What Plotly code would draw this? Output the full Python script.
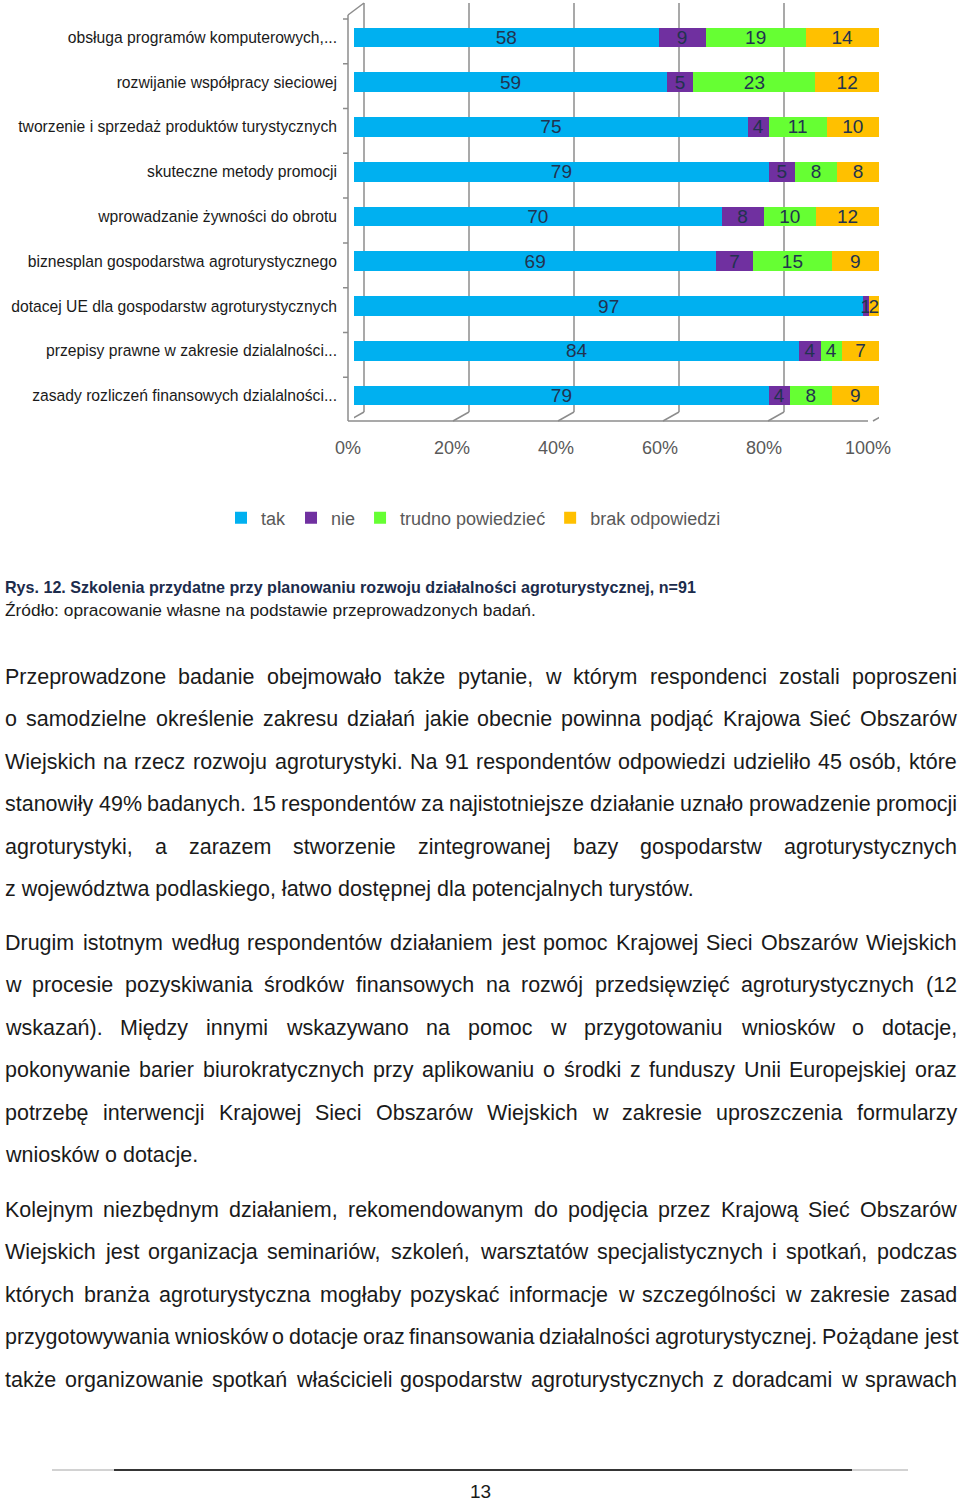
import plotly.graph_objects as go

# ---------------- data ----------------
categories = [
    "obsługa programów komputerowych,...",
    "rozwijanie współpracy sieciowej",
    "tworzenie i sprzedaż produktów turystycznych",
    "skuteczne metody promocji",
    "wprowadzanie żywności do obrotu",
    "biznesplan gospodarstwa agroturystycznego",
    "dotacej UE dla gospodarstw agroturystycznych",
    "przepisy prawne w zakresie dzialalności...",
    "zasady rozliczeń finansowych dzialalności...",
]
tak = [58, 59, 75, 79, 70, 69, 97, 84, 79]
nie = [9, 5, 4, 5, 8, 7, 1, 4, 4]
trudno = [19, 23, 11, 8, 10, 15, 0, 4, 8]
brak = [14, 12, 10, 8, 12, 9, 2, 7, 9]
series_names = ["tak", "nie", "trudno powiedzieć", "brak odpowiedzi"]
series_colors = ["#00b0f0", "#7030a0", "#66ff33", "#ffc000"]
x_tick_vals = [0, 20, 40, 60, 80, 100]
x_tick_labels = ["0%", "20%", "40%", "60%", "80%", "100%"]

caption = "Rys. 12. Szkolenia przydatne przy planowaniu rozwoju działalności agroturystycznej, n=91"
source = "Źródło: opracowanie własne na podstawie przeprowadzonych badań."

paragraphs = [
    [
        "Przeprowadzone badanie obejmowało także pytanie, w którym respondenci zostali poproszeni",
        "o samodzielne określenie zakresu działań jakie obecnie powinna podjąć Krajowa Sieć Obszarów",
        "Wiejskich na rzecz rozwoju agroturystyki. Na 91 respondentów odpowiedzi udzieliło 45 osób, które",
        "stanowiły 49% badanych. 15 respondentów za najistotniejsze działanie uznało prowadzenie promocji",
        "agroturystyki, a zarazem stworzenie zintegrowanej bazy gospodarstw agroturystycznych",
        "z województwa podlaskiego, łatwo dostępnej dla potencjalnych turystów.",
    ],
    [
        "Drugim istotnym według respondentów działaniem jest pomoc Krajowej Sieci Obszarów Wiejskich",
        "w procesie pozyskiwania środków finansowych na rozwój przedsięwzięć agroturystycznych (12",
        "wskazań). Między innymi wskazywano na pomoc w przygotowaniu wniosków o dotacje,",
        "pokonywanie barier biurokratycznych przy aplikowaniu o środki z funduszy Unii Europejskiej oraz",
        "potrzebę interwencji Krajowej Sieci Obszarów Wiejskich w zakresie uproszczenia formularzy",
        "wniosków o dotacje.",
    ],
    [
        "Kolejnym niezbędnym działaniem, rekomendowanym do podjęcia przez Krajową Sieć Obszarów",
        "Wiejskich jest organizacja seminariów, szkoleń, warsztatów specjalistycznych i spotkań, podczas",
        "których branża agroturystyczna mogłaby pozyskać informacje w szczególności w zakresie zasad",
        "przygotowywania wniosków o dotacje oraz finansowania działalności agroturystycznej. Pożądane jest",
        "także organizowanie spotkań właścicieli gospodarstw agroturystycznych z doradcami w sprawach",
    ],
]
# last line of every paragraph is left-aligned, except the last paragraph (continues on next page)
paragraph_last_justified = [False, False, True]
page_number = "13"

# ---------------- layout helpers ----------------
W, H = 960, 1501
FONT = "Liberation Sans"


def px(x):
    return x / W


def py(y):
    return 1 - y / H


# Arial / Liberation Sans advance widths (1/1000 em)
_AW = {" ": 278, "!": 278, "%": 889, "(": 333, ")": 333, ",": 278, "-": 333, ".": 278,
       ":": 278, ";": 278, "=": 584, "?": 556,
       "A": 667, "B": 667, "C": 722, "D": 722, "E": 667, "F": 611, "G": 778, "H": 722,
       "I": 278, "J": 500, "K": 667, "L": 556, "M": 833, "N": 722, "O": 778, "P": 667,
       "Q": 778, "R": 722, "S": 667, "T": 611, "U": 722, "V": 667, "W": 944, "X": 667,
       "Y": 667, "Z": 611,
       "a": 556, "b": 556, "c": 500, "d": 556, "e": 556, "f": 278, "g": 556, "h": 556,
       "i": 222, "j": 222, "k": 500, "l": 222, "m": 833, "n": 556, "o": 556, "p": 556,
       "q": 556, "r": 333, "s": 500, "t": 278, "u": 556, "v": 500, "w": 722, "x": 500,
       "y": 500, "z": 500,
       "ą": 556, "ć": 500, "ę": 556, "ł": 222, "ń": 556, "ó": 556, "ś": 500, "ź": 500,
       "ż": 500, "Ą": 667, "Ć": 722, "Ę": 667, "Ł": 556, "Ń": 722, "Ó": 778, "Ś": 667,
       "Ź": 611, "Ż": 611}


def em(s):
    return sum(_AW.get(ch, 556) for ch in s) / 1000.0


# ---------------- figure ----------------
fig = go.Figure()

for name, vals, col in zip(series_names, [tak, nie, trudno, brak], series_colors):
    fig.add_trace(go.Bar(
        y=categories, x=vals, name=name, orientation="h",
        marker=dict(color=col, line=dict(width=0)),
        text=[str(v) if v else "" for v in vals],
        textposition="inside", insidetextanchor="middle", textangle=0,
        textfont=dict(family=FONT, size=19, color="#22334f"),
        hoverinfo="skip",
    ))

# invisible trace on the front axis carrying the percentage labels
fig.add_trace(go.Scatter(x=[], y=[], xaxis="x2", yaxis="y", showlegend=False, hoverinfo="skip"))

PLOT_L, PLOT_R = 354, 879
ROW_TOP, ROW_BOT = 33, 396
step = (ROW_BOT - ROW_TOP) / (len(categories) - 1)
y_top_px = ROW_TOP - step / 2
y_bot_px = ROW_BOT + step / 2
FLOOR_FRONT = 421
FLOOR_BACK = 412

cat_size = 319 / em(categories[2])
leg_size = 18

fig.update_layout(
    width=W, height=H, autosize=False,
    margin=dict(l=0, r=0, t=0, b=0, pad=0, autoexpand=False),
    paper_bgcolor="white", plot_bgcolor="rgba(0,0,0,0)",
    barmode="stack", barnorm="percent", bargap=0.56,
    showlegend=True,
    legend=dict(orientation="h", x=px(221), xanchor="left", y=py(518), yanchor="middle",
                font=dict(family=FONT, size=leg_size, color="#595959"),
                itemwidth=30, traceorder="normal"),
    uniformtext=dict(minsize=19, mode="show"),
    xaxis=dict(domain=[px(PLOT_L), px(PLOT_R)], range=[0, 100], visible=False,
               fixedrange=True, automargin=False),
    xaxis2=dict(domain=[px(348), px(868)], range=[0, 100], anchor="free", position=py(FLOOR_FRONT),
                tickvals=x_tick_vals, ticktext=x_tick_labels, showgrid=False, zeroline=False,
                showline=False, ticks="", ticklabelstandoff=14, automargin=False,
                tickfont=dict(family=FONT, size=18, color="#595959")),
    yaxis=dict(domain=[py(y_bot_px), py(y_top_px)], autorange="reversed",
               categoryorder="array", categoryarray=categories,
               showgrid=False, zeroline=False, showline=False, ticks="",
               ticklabelstandoff=16, automargin=False,
               tickfont=dict(family=FONT, size=cat_size, color="#1a1a1a")),
    font=dict(family=FONT),
)

GRID = "#8c8c8c"
shapes = []
# back-wall gridlines + floor slants (anchored on data values)
for v in x_tick_vals:
    shapes.append(dict(type="line", xref="x", xsizemode="pixel", xanchor=v, x0=10, x1=10,
                       yref="paper", y0=py(3), y1=py(FLOOR_BACK),
                       line=dict(color=GRID, width=1.5), layer="below"))
    shapes.append(dict(type="line", xref="x", xsizemode="pixel", xanchor=v, x0=10, x1=-6,
                       yref="paper", y0=py(FLOOR_BACK), y1=py(FLOOR_FRONT),
                       line=dict(color=GRID, width=1.5), layer="below"))
# floor front edge
shapes.append(dict(type="line", xref="x2", x0=0, x1=100, yref="paper",
                   y0=py(FLOOR_FRONT), y1=py(FLOOR_FRONT), line=dict(color=GRID, width=1.5)))
# left wall front edge and top slant
shapes.append(dict(type="line", xref="paper", x0=px(348), x1=px(348), yref="paper",
                   y0=py(15), y1=py(FLOOR_FRONT), line=dict(color=GRID, width=1.5)))
shapes.append(dict(type="line", xref="paper", x0=px(348), x1=px(364), yref="paper",
                   y0=py(15), y1=py(3), line=dict(color=GRID, width=1.5)))
# category tick marks on the left wall
for k in range(len(categories) + 1):
    shapes.append(dict(type="line", xref="paper", x0=px(343), x1=px(348),
                       yref="y", ysizemode="pixel", yanchor=k - 0.5, y0=-4, y1=-4,
                       line=dict(color=GRID, width=1.5)))
# footer rule
shapes.append(dict(type="line", xref="paper", x0=px(52), x1=px(908), yref="paper",
                   y0=py(1470), y1=py(1470), line=dict(color="#a6a6a6", width=1.2)))
shapes.append(dict(type="line", xref="paper", x0=px(114), x1=px(852), yref="paper",
                   y0=py(1470), y1=py(1470), line=dict(color="#000000", width=1.6)))
fig.update_layout(shapes=shapes)

# ---------------- texts ----------------
ann = []
cap_size = 702 / (em(caption) * 1.09)
src_size = 531 / em(source)
ann.append(dict(x=px(4), y=py(587), xref="paper", yref="paper", xanchor="left", yanchor="middle",
                text="<b>" + caption + "</b>", showarrow=False, borderpad=0,
                font=dict(family=FONT, size=cap_size, color="#1c2c4c")))
ann.append(dict(x=px(4), y=py(610), xref="paper", yref="paper", xanchor="left", yanchor="middle",
                text=source, showarrow=False, borderpad=0,
                font=dict(family=FONT, size=src_size, color="#1a1a1a")))

LEFT, RIGHT = 4, 956
avail = RIGHT - LEFT
body_size = 0.5 * (691 / em(paragraphs[0][-1]) + 192 / em(paragraphs[1][-1]))
para_starts = [679, 945, 1212]
line_h = 42.4

for p_i, (lines, y0) in enumerate(zip(paragraphs, para_starts)):
    for l_i, line in enumerate(lines):
        yc = y0 + l_i * line_h - 2
        is_last = l_i == len(lines) - 1
        justify = (not is_last) or paragraph_last_justified[p_i]
        words = line.split(" ")
        if not justify:
            ann.append(dict(x=px(LEFT), y=py(yc), xref="paper", yref="paper", xanchor="left",
                            yanchor="middle", text=line, showarrow=False, borderpad=0,
                            font=dict(family=FONT, size=body_size, color="#1a1a1a")))
            continue
        wem = [em(w) for w in words]
        size = body_size
        min_gap = 0.2
        need = sum(wem) + min_gap * (len(words) - 1)
        if need * size > avail:
            size = avail / need
        gap = (avail - sum(wem) * size) / (len(words) - 1)
        x = LEFT
        for w, we in zip(words, wem):
            ann.append(dict(x=px(x), y=py(yc), xref="paper", yref="paper", xanchor="left",
                            yanchor="middle", text=w, showarrow=False, borderpad=0,
                            font=dict(family=FONT, size=size, color="#1a1a1a")))
            x += we * size + gap

ann.append(dict(x=px(480), y=py(1491), xref="paper", yref="paper", xanchor="center",
                yanchor="middle", text=page_number, showarrow=False, borderpad=0,
                font=dict(family=FONT, size=19, color="#1a1a1a")))

fig.update_layout(annotations=ann)

fig.write_html("out.html", config={"responsive": False})
